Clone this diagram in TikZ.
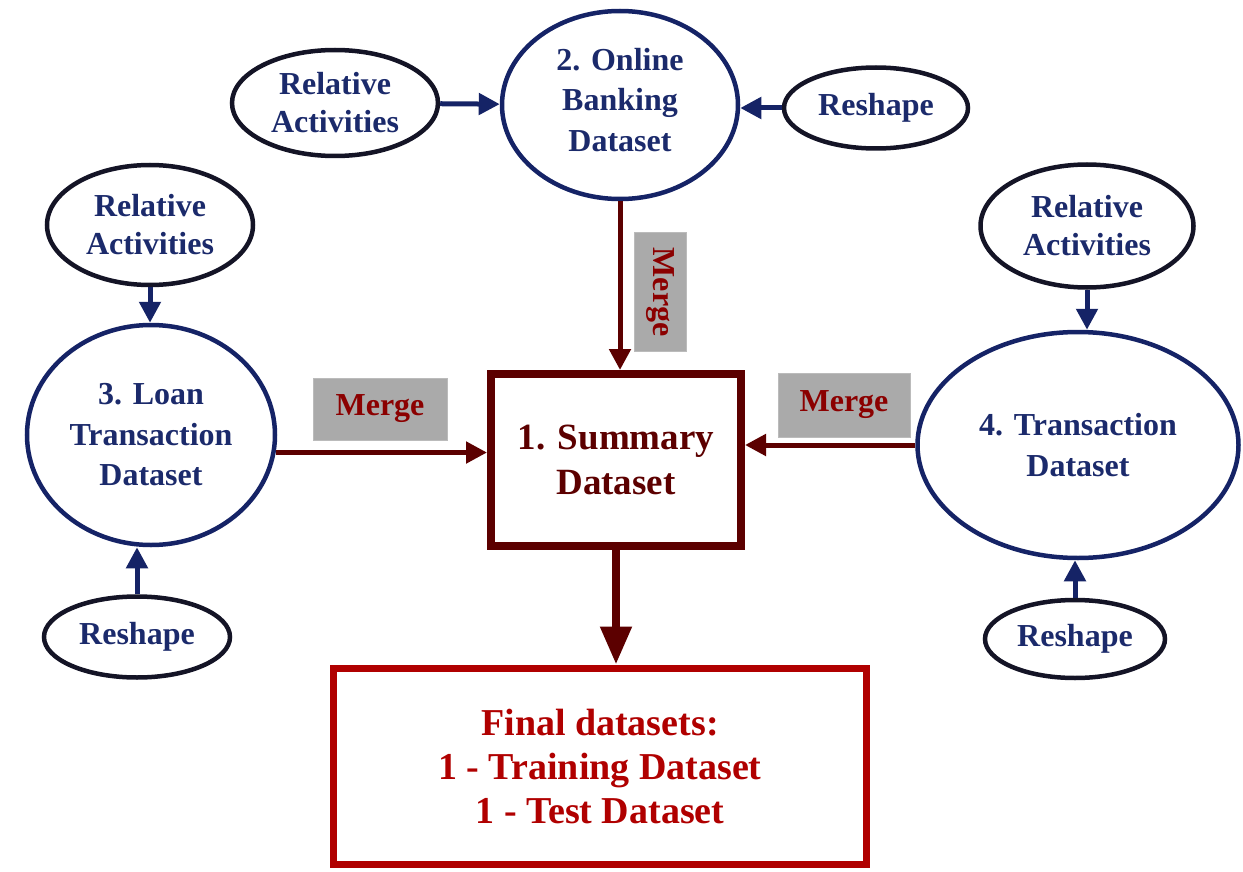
\documentclass[tikz,border=0pt]{standalone}
\usepackage{fontspec}
\setmainfont{Liberation Serif}
\usetikzlibrary{shapes.geometric,arrows.meta}
\definecolor{navytxt}{HTML}{1B2A6B}
\definecolor{navyline}{HTML}{152366}
\definecolor{darkline}{HTML}{141426}
\definecolor{sumred}{HTML}{5C0000}
\definecolor{mergetxt}{HTML}{8B0000}
\definecolor{finalred}{HTML}{B00000}
\definecolor{mergegray}{HTML}{AAAAAA}
\tikzset{
  base/.style={align=center,inner sep=0pt,font=\fontsize{32}{38}\selectfont\bfseries},
  aux/.style={base,ellipse,draw=darkline,line width=4.5pt,text=navytxt},
  data/.style={base,ellipse,draw=navyline,line width=4.5pt,text=navytxt,font=\fontsize{32}{40.5}\selectfont\bfseries},
  sumbox/.style={base,rectangle,draw=sumred,line width=8pt,text=sumred,font=\fontsize{37}{45}\selectfont\bfseries},
  finalbox/.style={base,rectangle,draw=finalred,line width=7pt,text=finalred,font=\fontsize{38}{44}\selectfont\bfseries},
  mergebox/.style={base,rectangle,fill=mergegray,draw=mergegray!80,line width=1pt,text=mergetxt},
  bluearrow/.style={draw=navyline,line width=5pt,-{Triangle[length=21pt,width=21pt]}},
  redarrow/.style={draw=sumred,line width=5pt,-{Triangle[length=21pt,width=21pt]}},
  bigarrow/.style={draw=sumred,line width=8pt,-{Triangle[length=38pt,width=30pt]}}
}
\begin{document}
\begin{tikzpicture}[x=1pt,y=-1pt]
\useasboundingbox (0,0) rectangle (1243,872);
% auxiliary ellipses
\node[aux,minimum width=206pt,minimum height=106pt] (ra1) at (335,103) {Relative\\Activities};
\node[aux,minimum width=184pt,minimum height=81pt] (rs1) at (876,108) {Reshape};
\node[aux,minimum width=206pt,minimum height=120pt] (ra2) at (150,225) {Relative\\Activities};
\node[aux,minimum width=186pt,minimum height=81pt] (rs2) at (137,637) {Reshape};
\node[aux,minimum width=213pt,minimum height=123pt] (ra3) at (1087,226) {Relative\\Activities};
\node[aux,minimum width=180pt,minimum height=78pt] (rs3) at (1075,639) {Reshape};
% dataset ellipses
\node[data,minimum width=236pt,minimum height=188pt] (ob) at (620,105) {2. Online\\Banking\\Dataset\\[-30pt]};
\node[data,minimum width=248pt,minimum height=220pt] (loan) at (151,435) {3. Loan\\Transaction\\Dataset};
\node[data,minimum width=321pt,minimum height=226pt] (trans) at (1078,445) {4. Transaction\\Dataset};
% boxes
\node[sumbox,minimum width=250pt,minimum height=172pt] (sum) at (616,460) {1. Summary\\Dataset};
\node[finalbox,minimum width=533pt,minimum height=196pt] (final) at (600,766) {Final datasets:\\1 - Training Dataset\\1 - Test Dataset};
% merge labels
\node[mergebox,minimum width=134pt,minimum height=62pt] (m1) at (380,409) {Merge};
\node[mergebox,minimum width=132pt,minimum height=64pt] (m2) at (844,405) {Merge};
\node[mergebox,minimum width=52pt,minimum height=119pt] (m3) at (660,292) {\rotatebox{-90}{Merge}};
% arrows
\draw[bluearrow] (ra1) -- (ob);
\draw[bluearrow] (rs1.west) -- (rs1.west -| ob.east);
\draw[bluearrow] (ra2.south) -- (ra2.south |- loan.north);
\draw[bluearrow] (rs2.north) -- (rs2.north |- loan.south);
\draw[bluearrow] (ra3.south) -- (ra3.south |- trans.north);
\draw[bluearrow] (rs3.north) -- (rs3.north |- trans.south);
\draw[redarrow] (ob.south) -- (ob.south |- sum.north);
\draw[redarrow] (loan.-8) -- (loan.-8 -| sum.west);
\draw[redarrow] (trans.west) -- (trans.west -| sum.east);
\draw[bigarrow] (sum.south) -- (sum.south |- final.north);
\end{tikzpicture}
\end{document}
